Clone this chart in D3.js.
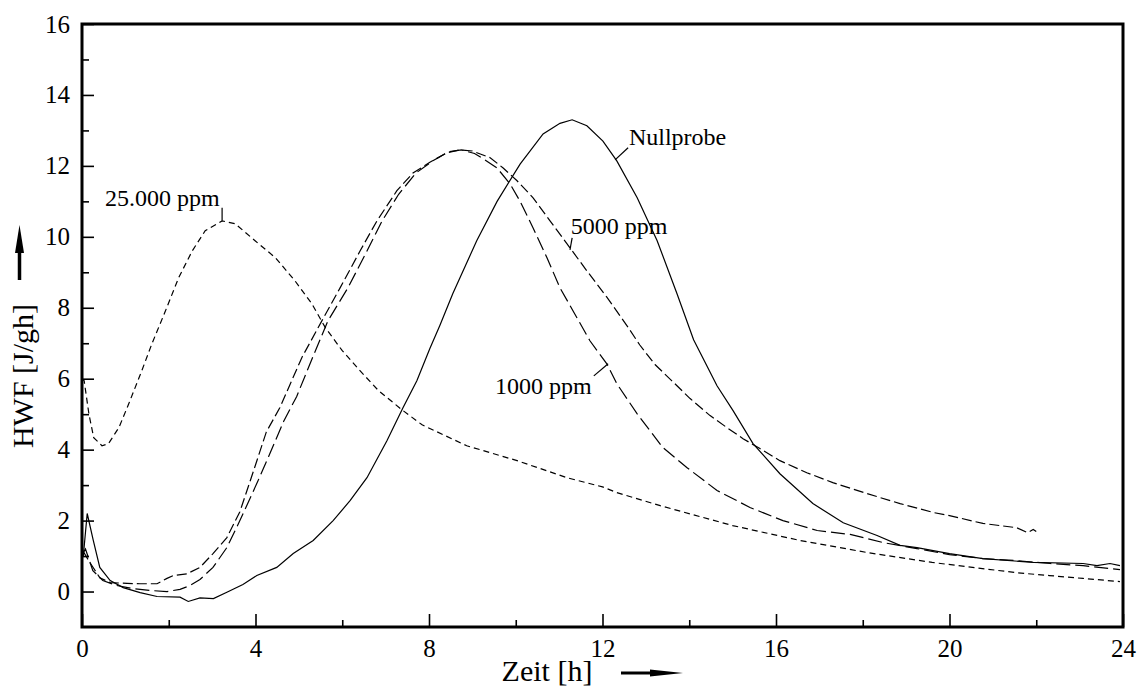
<!DOCTYPE html>
<html>
<head>
<meta charset="utf-8">
<script src="https://cdn.jsdelivr.net/npm/d3@7"></script>
<style>
  body { margin: 0; background: #fff; }
  svg, svg text { font-family: "Liberation Serif", "Times New Roman", serif; fill: #000; }
  .frame { fill: none; stroke: #000; stroke-width: 3; }
  .tick line { stroke: #000; stroke-width: 1.6; }
  .curve { fill: none; stroke: #000; stroke-width: 1.2; }
  .leader { stroke: #000; stroke-width: 1.2; }
</style>
</head>
<body>
<div id="chart"></div>
<script>

// Heat flow curves: [time in h, HWF in J/gh]
var nullprobe = [
  [0.03,1.0],[0.12,2.2],[0.26,1.44],[0.41,0.68],[0.65,0.31],[0.95,0.11],[1.34,-0.03],[1.73,-0.14],
  [2.26,-0.16],[2.45,-0.28],[2.72,-0.18],[3.03,-0.2],[3.34,-0.02],[3.71,0.2],[4.03,0.45],[4.49,0.68],
  [4.87,1.07],[5.33,1.44],[5.79,2.0],[6.18,2.56],[6.57,3.21],[7.03,4.25],[7.4,5.18],[7.72,5.94],
  [8.02,6.85],[8.25,7.5],[8.55,8.4],[9.1,9.89],[9.57,11.0],[10.1,12.05],[10.63,12.9],[11.02,13.2],
  [11.3,13.3],[11.64,13.13],[12.01,12.7],[12.33,12.14],[12.8,11.1],[13.26,9.89],[13.72,8.39],[14.1,7.1],
  [14.64,5.8],[15.01,5.1],[15.47,4.17],[16.09,3.32],[16.85,2.48],[17.55,1.94],[18.33,1.58],[18.86,1.3],
  [19.25,1.24],[20.0,1.07],[20.77,0.93],[21.93,0.82],[23.08,0.79],[23.4,0.73],[23.7,0.79],[23.93,0.73]
];

var ppm1000 = [
  [0.02,1.07],[0.08,1.2],[0.25,0.59],[0.48,0.31],[0.8,0.17],[1.18,0.08],[1.57,0.03],[1.96,0.0],
  [2.26,0.06],[2.49,0.17],[2.72,0.34],[3.02,0.68],[3.34,1.24],[3.64,2.0],[4.05,3.1],[4.3,3.8],
  [4.65,4.8],[4.95,5.5],[5.3,6.55],[5.67,7.63],[6.13,8.56],[6.57,9.6],[6.92,10.45],[7.3,11.2],
  [7.7,11.8],[8.1,12.15],[8.45,12.4],[8.75,12.45],[9.05,12.35],[9.25,12.2],[9.57,11.94],[9.87,11.49],
  [10.1,11.0],[10.4,10.25],[10.72,9.41],[11.02,8.56],[11.41,7.72],[11.71,7.07],[12.1,6.42],[12.33,5.86],
  [12.8,5.01],[13.39,4.06],[13.95,3.49],[14.64,2.85],[15.4,2.37],[16.16,2.0],[16.95,1.72],[17.71,1.61],
  [18.47,1.38],[19.25,1.21],[20.0,1.04],[20.77,0.93],[21.55,0.87],[22.32,0.79],[23.08,0.73],[23.93,0.62]
];

var ppm5000 = [
  [0.02,1.15],[0.18,0.82],[0.41,0.39],[0.65,0.25],[1.04,0.23],[1.34,0.22],[1.73,0.22],[1.96,0.37],
  [2.1,0.45],[2.42,0.5],[2.72,0.68],[3.02,1.07],[3.34,1.52],[3.64,2.25],[3.9,3.2],[4.25,4.5],
  [4.56,5.18],[5.07,6.6],[5.53,7.63],[5.95,8.56],[6.41,9.6],[6.8,10.45],[7.26,11.3],[7.63,11.8],
  [8.02,12.1],[8.41,12.37],[8.7,12.45],[9.0,12.42],[9.41,12.23],[9.71,11.94],[10.03,11.58],[10.4,11.1],
  [10.79,10.45],[11.25,9.69],[11.64,9.04],[12.1,8.3],[12.59,7.45],[12.86,6.95],[13.21,6.4],[13.6,5.94],
  [14.02,5.44],[14.48,4.96],[14.87,4.62],[15.24,4.31],[15.63,4.03],[16.09,3.69],[16.71,3.35],[17.31,3.07],
  [18.1,2.76],[18.86,2.48],[19.62,2.23],[20.0,2.14],[20.77,1.92],[21.55,1.8],[21.8,1.66],[21.93,1.75],[22.0,1.69]
];

var ppm25000 = [
  [0.0,6.0],[0.05,5.94],[0.16,5.0],[0.27,4.34],[0.46,4.11],[0.61,4.17],[0.85,4.62],[1.08,5.3],
  [1.38,6.23],[1.61,6.98],[1.92,7.9],[2.23,8.85],[2.54,9.6],[2.84,10.17],[3.23,10.45],[3.53,10.37],
  [3.99,9.89],[4.46,9.41],[4.91,8.76],[5.3,8.11],[5.61,7.44],[6.0,6.79],[6.39,6.25],[6.84,5.66],
  [7.38,5.12],[7.84,4.7],[8.87,4.11],[10.03,3.69],[11.18,3.21],[12.0,2.95],[12.33,2.79],[13.33,2.42],
  [15.0,1.86],[16.55,1.44],[18.1,1.1],[19.6,0.82],[21.55,0.53],[22.3,0.45],[23.08,0.37],[23.93,0.28]
];

// tick values
var xMajorTicks = [0, 4, 8, 12, 16, 20, 24];
var xMinorTicks = [2, 6, 10, 14, 18, 22];
var yMajorTicks = [0, 2, 4, 6, 8, 10, 12, 14, 16];
var yMinorTicks = [1, 3, 5, 7, 9, 11, 13, 15];

// curve labels: text, anchor of text and leader line in data units
var labelNames  = ["Nullprobe", "5000 ppm", "1000 ppm", "25.000 ppm"];
var labelAt     = [[12.61, 12.59], [11.27, 10.08], [9.52, 5.58], [0.53, 10.87]];
var leaderFrom  = [[12.59, 12.51], [11.3, 9.97], [11.8, 6.08], [3.23, 10.82]];
var leaderTo    = [[12.29, 12.17], [11.25, 9.63], [12.13, 6.42], [3.23, 10.45]];


var margin = {top: 24, right: 19, bottom: 62, left: 82};
var width = 1142 - margin.left - margin.right;
var height = 689 - margin.top - margin.bottom;
var serif = '"Liberation Serif", "Times New Roman", serif';


function drawAxes(svg, x, y){

    var xAxis = svg.append("g")
        .attr("transform", "translate(0," + height + ")")
        .attr("class", "x_axis")
        .call(d3.axisBottom(x).tickValues(xMajorTicks).tickSizeInner(-13).tickSizeOuter(0).tickPadding(12));
    xAxis.attr("font-size", 25).attr("font-family", serif);
    xAxis.selectAll("text").style("font-family", serif);
    xAxis.select(".domain").remove();

    var xMinor = svg.append("g")
        .attr("transform", "translate(0," + height + ")")
        .call(d3.axisBottom(x).tickValues(xMinorTicks).tickSizeInner(-7).tickSizeOuter(0).tickFormat(""));
    xMinor.select(".domain").remove();

    var yAxis = svg.append("g")
        .attr("class", "y_axis")
        .call(d3.axisLeft(y).tickValues(yMajorTicks).tickSizeInner(-12).tickSizeOuter(0).tickPadding(12));
    yAxis.attr("font-size", 25).attr("font-family", serif);
    yAxis.selectAll("text").style("font-family", serif);
    yAxis.select(".domain").remove();

    var yMinor = svg.append("g")
        .call(d3.axisLeft(y).tickValues(yMinorTicks).tickSizeInner(-7).tickSizeOuter(0).tickFormat(""));
    yMinor.select(".domain").remove();

    svg.append("rect")
        .attr("class", "frame")
        .attr("x", 0).attr("y", 0)
        .attr("width", width).attr("height", height);
}


function drawTitles(svg){

    // x title with arrow
    svg.append("text")
        .attr("x", 465).attr("y", 657)
        .attr("text-anchor", "middle")
        .attr("font-size", 30)
        .style("font-family", serif)
        .text("Zeit [h]");

    svg.append("line")
        .attr("x1", 539).attr("x2", 570)
        .attr("y1", 649).attr("y2", 649)
        .attr("stroke", "#000").attr("stroke-width", 3);
    svg.append("path")
        .attr("d", "M568,645.5 L601,649 L568,652.5 Z")
        .attr("fill", "#000");

    // y title with arrow
    svg.append("text")
        .attr("transform", "translate(-49," + 352 + ") rotate(-90)")
        .attr("text-anchor", "middle")
        .attr("font-size", 30)
        .style("font-family", serif)
        .text("HWF [J/gh]");

    svg.append("line")
        .attr("x1", -62.5).attr("x2", -62.5)
        .attr("y1", 256).attr("y2", 226)
        .attr("stroke", "#000").attr("stroke-width", 3.5);
    svg.append("path")
        .attr("d", "M-67,229 L-62.5,201 L-58,229 Z")
        .attr("fill", "#000");
}


function drawCurves(svg, x, y){

    var line = d3.line()
        .x(function(d) { return x(d[0]); })
        .y(function(d) { return y(d[1]); });

    var series = [
        {data: nullprobe, dash: null},
        {data: ppm1000,  dash: "14,5"},
        {data: ppm5000,  dash: "10,4"},
        {data: ppm25000, dash: "6,4"}
    ];

    svg.append("g")
        .selectAll("path")
        .data(series)
        .enter()
        .append("path")
        .attr("class", "curve")
        .attr("stroke-dasharray", function(d) { return d.dash; })
        .attr("d", function(d) { return line(d.data); });
}


function drawLabels(svg, x, y){

    var g = svg.append("g").attr("class", "labels");

    g.selectAll("text")
        .data(labelNames)
        .enter()
        .append("text")
        .attr("x", function(d, i) { return x(labelAt[i][0]); })
        .attr("y", function(d, i) { return y(labelAt[i][1]); })
        .attr("font-size", 24)
        .style("font-family", serif)
        .text(function(d) { return d; });

    g.selectAll("line")
        .data(labelNames)
        .enter()
        .append("line")
        .attr("class", "leader")
        .attr("x1", function(d, i) { return x(leaderFrom[i][0]); })
        .attr("y1", function(d, i) { return y(leaderFrom[i][1]); })
        .attr("x2", function(d, i) { return x(leaderTo[i][0]); })
        .attr("y2", function(d, i) { return y(leaderTo[i][1]); });
}


var svg = d3.select("#chart")
            .append("svg")
            .attr("width", width + margin.left + margin.right)
            .attr("height", height + margin.top + margin.bottom)
            .style("background", "#fff")
            .append("g")
            .attr("transform", "translate(" + margin.left + "," + margin.top + ")");

var x = d3.scaleLinear().domain([0, 24]).range([0, width]);
var y = d3.scaleLinear().domain([-1, 16]).range([height, 0]);

drawCurves(svg, x, y);
drawLabels(svg, x, y);
drawAxes(svg, x, y);
drawTitles(svg);

</script>
</body>
</html>
